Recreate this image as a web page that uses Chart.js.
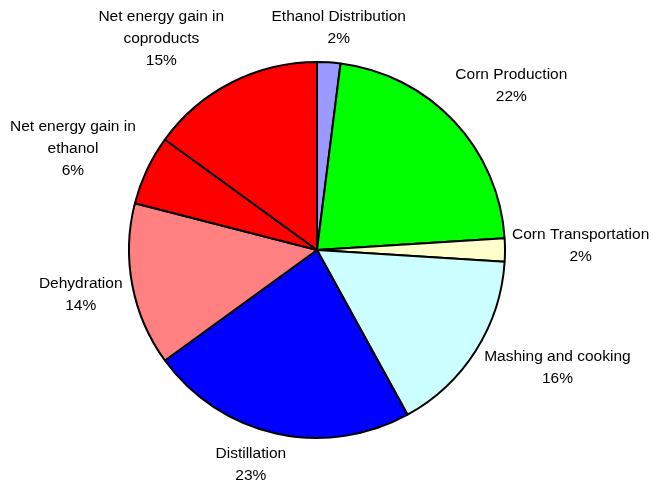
<!DOCTYPE html>
<html lang="en">
<head>
  <meta charset="UTF-8" />
  <title>Ethanol energy balance</title>
  <script src="https://cdn.jsdelivr.net/npm/chart.js"></script>
  <style>
    body { margin: 0; background: #fff; }
    canvas { display: block; }
  </style>
</head>
<body>
  <canvas id="pieChart" width="653" height="485"></canvas>
  <script>
    // slices, clockwise from 12 o'clock
    const categories = [
      ['Ethanol Distribution'],
      ['Corn Production'],
      ['Corn Transportation'],
      ['Mashing and cooking'],
      ['Distillation'],
      ['Dehydration'],
      ['Net energy gain in', 'ethanol'],
      ['Net energy gain in', 'coproducts']
    ];
    const shares = [2, 22, 2, 16, 23, 14, 6, 15];
    const sliceColors = ['#9999FF', '#00FF00', '#FFFFCC', '#CCFFFF', '#0000FF', '#FF8080', '#FF0000', '#FF0000'];
    // small hand tweaks to the label placement, [dx, dy]
    const labelNudge = [[0, -3], [-6, -14], [-3, -4], [0, 0], [-6, 0], [0, 3], [-2, -3], [-3, -5]];

    const FONT = '15.5px "Liberation Sans", Arial, sans-serif';
    const LINE_H = 22;
    const GAP = 10;

    // Excel-style outside labels: name lines + percentage
    const outsideLabels = {
      id: 'outsideLabels',
      afterDraw(chart) {
        const ctx = chart.ctx;
        const meta = chart.getDatasetMeta(0);
        const total = shares.reduce((a, b) => a + b, 0);
        const clamp = v => Math.max(-1, Math.min(1, v));
        ctx.save();
        ctx.font = FONT;
        ctx.fillStyle = '#000';
        ctx.textAlign = 'center';
        ctx.textBaseline = 'middle';
        meta.data.forEach((arc, i) => {
          const p = arc.getProps(['x', 'y', 'startAngle', 'endAngle', 'outerRadius'], true);
          const mid = (p.startAngle + p.endAngle) / 2;
          const ux = Math.cos(mid), uy = Math.sin(mid);
          const lines = categories[i].concat([Math.round(shares[i] / total * 100) + '%']);
          const w = Math.max(...lines.map(l => ctx.measureText(l).width));
          const h = lines.length * LINE_H;
          const R = p.outerRadius + GAP;
          const cx = p.x + ux * R + w / 2 * clamp(ux * 2.2) + labelNudge[i][0];
          const cy = p.y + uy * R + h / 2 * uy + labelNudge[i][1];
          lines.forEach((l, k) => {
            ctx.fillText(l, cx, cy - h / 2 + LINE_H * (k + 0.5));
          });
        });
        ctx.restore();
      }
    };

    new Chart(document.getElementById('pieChart'), {
      type: 'pie',
      data: {
        labels: categories.map(c => c.join(' ')),
        datasets: [{
          data: shares,
          backgroundColor: sliceColors,
          borderColor: '#000',
          borderWidth: 2
        }]
      },
      options: {
        responsive: false,
        animation: false,
        layout: { padding: { left: 128, right: 147, top: 61, bottom: 46 } },
        plugins: { legend: { display: false }, tooltip: { enabled: false } }
      },
      plugins: [outsideLabels]
    });
  </script>
</body>
</html>
